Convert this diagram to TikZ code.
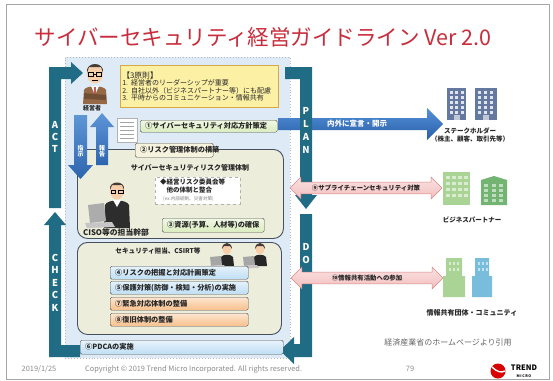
\documentclass[tikz,border=0pt]{standalone}
\usepackage{fontspec}
\setmainfont{Noto Sans CJK JP}
\usetikzlibrary{shapes.arrows}

\definecolor{titlered}{RGB}{200,45,60}
\definecolor{pdcateal}{RGB}{32,108,132}
\definecolor{zoneblue}{RGB}{222,235,247}
\definecolor{boxbeige}{RGB}{237,237,220}
\definecolor{boxedge}{RGB}{70,80,95}
\definecolor{ruleyellow}{RGB}{252,240,165}
\definecolor{ruleedge}{RGB}{215,170,70}
\definecolor{stepgreen}{RGB}{218,236,190}
\definecolor{stepblue}{RGB}{190,222,245}
\definecolor{steporange}{RGB}{247,192,140}
\definecolor{linkpink}{RGB}{244,190,190}
\definecolor{linkedge}{RGB}{215,135,135}
\definecolor{footgray}{RGB}{140,140,140}
\definecolor{skin}{RGB}{246,206,170}
\definecolor{suitbrown}{RGB}{150,105,70}
\definecolor{hair}{RGB}{70,60,55}
\definecolor{bldgblue}{RGB}{100,120,160}
\definecolor{bldggreen}{RGB}{170,212,150}
\definecolor{bldgdkgreen}{RGB}{115,180,115}
\definecolor{bldgsky}{RGB}{120,190,220}

\begin{document}
\begin{tikzpicture}[x=1pt,y=-1pt,
  zone/.style={draw=gray!55,dotted,line width=0.9pt,fill=zoneblue,anchor=north west,inner sep=0pt},
  panel/.style={draw=boxedge,line width=0.9pt,fill=boxbeige,rounded corners=10pt,anchor=north west,inner sep=0pt},
  task/.style={draw=gray!60!black,line width=0.4pt,rounded corners=1.5pt,anchor=north west,inner sep=0pt,inner xsep=5pt,
    minimum height=13pt,align=left,text=black!85,font=\fontsize{7.2}{8}\selectfont\bfseries},
  band/.style={fill=pdcateal},
  bandtext/.style={text=white,font=\fontsize{9.5}{10}\selectfont\bfseries,inner sep=0pt},
  link/.style={double arrow,double arrow head extend=5pt,double arrow tip angle=90,draw=linkedge,line width=0.5pt,
    top color=linkpink!45!white,bottom color=linkpink,inner ysep=2.5pt,minimum height=152pt,
    font=\fontsize{6.4}{7}\selectfont\bfseries,text=black!85},
  caption/.style={font=\fontsize{6.5}{7.5}\selectfont\bfseries,text=black!85,align=center,inner sep=0pt},
  foot/.style={font=\fontsize{7.4}{8}\selectfont,text=footgray,inner sep=0pt}]

\useasboundingbox (0,0) rectangle (553,380);
\fill[white] (0,0) rectangle (553,380);
\draw[gray!70,line width=0.8pt] (6,4) rectangle (549,379);

\node[anchor=west,text=titlered,font=\fontsize{21.5}{23}\selectfont] (title) at (31,37) {サイバーセキュリティ経営ガイドライン Ver 2.0};

% organisation area
\node[zone,minimum width=225pt,minimum height=301pt] (zone) at (65,57) {};

% declaration towards stakeholders (runs under the PLAN band)
\shade[top color={rgb,255:red,85;green,145;blue,215},bottom color={rgb,255:red,40;green,95;blue,170}]
  (278,118) -- (427,118) -- (427,108) -- (443,124) -- (427,140) -- (427,130) -- (278,130) -- cycle;
\node[text=white,font=\fontsize{7.5}{8}\selectfont\bfseries] (declare) at (357,124) {内外に宣言・開示};

% PDCA loop
\fill[band] (285,67) -- (312,67) -- (312,195) -- (317,195) -- (306,209) -- (295,195) -- (300,195) -- (300,79) -- (285,79) -- cycle;
\fill[band] (300,214) -- (312,214) -- (312,357) -- (294,357) -- (294,364) -- (280,350.5) -- (294,337) -- (294,344) -- (300,344) -- cycle;
\fill[band] (49,208) -- (49,67) -- (71,67) -- (71,62) -- (83,73) -- (71,84) -- (71,79) -- (61,79) -- (61,208) -- cycle;
\fill[band] (55,212) -- (66,225) -- (61,225) -- (61,345) -- (80,345) -- (80,357) -- (49,357) -- (49,225) -- (44,225) -- cycle;
\foreach \ch [count=\i] in {P,L,A,N}
  \node[bandtext] at (306,98+13*\i) {\ch};
\foreach \ch [count=\i] in {D,O}
  \node[bandtext] at (306,234+13*\i) {\ch};
\foreach \ch [count=\i] in {A,C,T}
  \node[bandtext] at (55,113+12*\i) {\ch};
\foreach \ch [count=\i] in {C,H,E,C,K}
  \node[bandtext] at (55,245+12.5*\i) {\ch};

% links to outside parties
\node[link] (supply) at (366,188) {⑨サプライチェーンセキュリティ対策};
\node[link] (share) at (367,278) {⑩情報共有活動への参加};

% three principles
\node[draw=ruleedge,line width=0.6pt,fill=ruleyellow,anchor=north west,minimum width=158pt,minimum height=42pt,
  text width=154pt,inner xsep=2pt,align=left,font=\fontsize{7}{7.4}\selectfont,text=black!85] (rules) at (120,65)
  {{\fontsize{7.8}{9.5}\selectfont【3原則】}\\
   \mbox{1.\hspace{3pt}経営者のリーダーシップが重要}\\
   \mbox{2.\hspace{3pt}自社以外（ビジネスパートナー等）にも配慮}\\
   \mbox{3.\hspace{3pt}平時からのコミュニケーション・情報共有}};

% executive
\fill[suitbrown] (83,104) -- (84,90) .. controls (86,85) and (104,85) .. (106,90) -- (107,104) -- cycle;
\fill[white] (91,86) -- (95,95) -- (99,86) -- cycle;
\fill[red!65!black] (94.3,87) -- (95.7,87) -- (95.5,95) -- (94.5,95) -- cycle;
\fill[suitbrown!75!black] (84,93) -- (106,95) -- (106,100) -- (84,99) -- cycle;
\fill[skin] (95,74) ellipse[x radius=8,y radius=9.5];
\fill[hair] (87,73) .. controls (85,61) and (105,61) .. (103,73) -- (101,67) -- (89,67) -- cycle;
\draw[black,line width=0.6pt] (88.5,72) rectangle (93.5,76) (96.5,72) rectangle (101.5,76) (93.5,74) -- (96.5,74);
\draw[black,line width=0.5pt] (92,80) -- (98,80);
\node[font=\fontsize{6}{7}\selectfont\bfseries,text=black!85] (exec) at (92,108) {経営者};

% policy document
\fill[white,draw=gray!60] (117,118) rectangle (137,142);
\foreach \y in {122,126,130,134,138}
  \draw[gray!70,line width=0.6pt] (120,\y) -- (134,\y);
\node[task,top color=stepgreen!40!white,bottom color=stepgreen,text width=127pt,minimum height=12pt] (policy) at (140,120)
  {①サイバーセキュリティ対応方針策定};

% risk management system
\node[panel,minimum width=206pt,minimum height=89pt] (riskbox) at (77,149) {};
\node[task,fill={rgb,255:red,245;green,242;blue,222},text width=68pt,align=center,minimum height=14pt] (build) at (135,143)
  {②リスク管理体制の構築};
\node[font=\fontsize{7}{8}\selectfont\bfseries,text=black!85] (system) at (190,168) {サイバーセキュリティリスク管理体制};
\node[draw=gray!60,dashed,fill=white,anchor=north west,minimum width=85pt,minimum height=27pt,inner sep=0pt] (committee) at (155,177) {};
\node[anchor=north west,align=left,inner sep=0pt,font=\fontsize{6.5}{8}\selectfont\bfseries,text=black!85] (align) at (160,179)
  {◆経営リスク委員会等\\\hspace{6.5pt}他の体制と整合};
\node[anchor=north west,inner sep=0pt,font=\fontsize{4.6}{5}\selectfont,text=gray] (example) at (163,196) {(ex.内部統制、災害対策)};

% CISO at the laptop
\fill[gray!35!black] (104,228) -- (105,205) .. controls (107,199) and (127,199) .. (129,205) -- (130,228) -- cycle;
\fill[white] (113,200) -- (117,207) -- (121,200) -- cycle;
\fill[skin] (117,191) ellipse[x radius=7,y radius=8.5];
\fill[hair] (110,190) .. controls (108,180) and (126,180) .. (124,190) -- (122,185) -- (112,185) -- cycle;
\draw[black,line width=0.5pt] (111,190) rectangle (115.5,193.5) (118.5,190) rectangle (123,193.5);
\fill[gray!65] (88,205) -- (104,203) -- (106,221) -- (90,223) -- cycle;
\fill[gray!45] (85,223) -- (112,222) -- (115,227) -- (87,228) -- cycle;
\node[font=\fontsize{7.8}{9}\selectfont\bfseries,text=black!85] (ciso) at (116,232) {CISO等の担当幹部};
\node[task,top color=stepgreen!40!white,bottom color=stepgreen,text width=92pt,minimum height=14pt] (resource) at (162,218)
  {③資源(予算、人材等)の確保};

% instruction and report
\shade[top color={rgb,255:red,95;green,150;blue,215},bottom color={rgb,255:red,45;green,100;blue,175}]
  (74,115) -- (87,115) -- (87,165) -- (93,165) -- (80.5,179) -- (68,165) -- (74,165) -- cycle;
\shade[top color={rgb,255:red,95;green,150;blue,215},bottom color={rgb,255:red,45;green,100;blue,175}]
  (96,165) -- (108,165) -- (108,127) -- (114,127) -- (102,113) -- (90,127) -- (96,127) -- cycle;
\node[text=white,font=\fontsize{6}{6.5}\selectfont\bfseries,align=center,inner sep=0pt] (order) at (80.5,151) {指\\示};
\node[text=white,font=\fontsize{6}{6.5}\selectfont\bfseries,align=center,inner sep=0pt] (report) at (102,151) {報\\告};

% security staff / CSIRT
\node[panel,minimum width=204pt,minimum height=92pt] (csirtbox) at (77,242) {};
\node[font=\fontsize{6.6}{7.5}\selectfont\bfseries,text=black!85] (csirt) at (158,251) {セキュリティ担当、CSIRT等};
\foreach \x in {227,260} {
  \fill[gray!30!black] (\x-7,266) -- (\x-6,257) .. controls (\x-4,254) and (\x+4,254) .. (\x+6,257) -- (\x+7,266) -- cycle;
  \fill[skin] (\x,249) ellipse[x radius=4.5,y radius=5.5];
  \fill[hair] (\x-5,249) .. controls (\x-5,241) and (\x+5,241) .. (\x+5,249) -- (\x+3,246) -- (\x-3,246) -- cycle;
  \fill[gray!70] (\x-17,257) -- (\x-6,256) -- (\x-5,265) -- (\x-16,266) -- cycle;
  \fill[gray!45] (\x-19,266) -- (\x-3,265) -- (\x-1,268) -- (\x-18,268.5) -- cycle;
}
\node[task,top color=stepblue!40!white,bottom color=stepblue,text width=128pt] (plan) at (110,266) {④リスクの把握と対応計画策定};
\node[task,top color=stepblue!40!white,bottom color=stepblue,text width=128pt] (protect) at (110,281) {⑤保護対策(防御・検知・分析)の実施};
\node[task,top color=steporange!40!white,bottom color=steporange,text width=128pt] (incident) at (110,297) {⑦緊急対応体制の整備};
\node[task,top color=steporange!40!white,bottom color=steporange,text width=128pt] (recover) at (110,313) {⑧復旧体制の整備};
\node[task,top color=stepblue!35!white,bottom color=stepblue,text width=193pt,minimum height=14pt] (pdca) at (80,340) {⑥PDCAの実施};

% stakeholders
\foreach \x/\w in {447/19,475/22} {
  \fill[bldgblue] (\x,88) rectangle (\x+\w,120);
  \foreach \r in {0,...,4}
    \foreach \c in {0,1,2}
      \fill[white!80!bldgblue] (\x+2.5+\c*\w/3.4,91+\r*5) rectangle (\x+5.5+\c*\w/3.4,94+\r*5);
  \fill[white!60!bldgblue] (\x+\w/2-3,115) rectangle (\x+\w/2+3,120);
}
\node[caption] (stake) at (470,135) {ステークホルダー\\（株主、顧客、取引先等）};

% business partners
\fill[bldggreen] (443,172) rectangle (470,205);
\foreach \r in {0,...,3}
  \foreach \c in {0,...,3}
    \fill[white!55!bldggreen] (446+\c*6,176+\r*6) rectangle (450+\c*6,179+\r*6);
\fill[bldgdkgreen] (481,180) -- (494,176) -- (507,180) -- (507,205) -- (481,205) -- cycle;
\foreach \r in {0,...,3}
  \foreach \c in {0,...,2}
    \fill[white!55!bldgdkgreen] (484+\c*7.5,184+\r*5) rectangle (488+\c*7.5,186.5+\r*5);
\node[caption] (partner) at (472,220) {ビジネスパートナー};

% information sharing community
\fill[bldggreen] (446,258) rectangle (462,276) (443,276) rectangle (465,297);
\fill[bldgsky] (475,258) rectangle (489,276) (472,276) rectangle (492,297);
\foreach \r in {0,1}
  \foreach \c in {0,1,2} {
    \fill[white!55!bldggreen] (449+\c*4,262+\r*6) rectangle (451+\c*4,265+\r*6);
    \fill[white!55!bldgsky] (478+\c*4,262+\r*6) rectangle (480+\c*4,265+\r*6);
  }
\node[caption,font=\fontsize{7}{8}\selectfont\bfseries] (community) at (472,313) {情報共有団体・コミュニティ};

\node[font=\fontsize{8}{9}\selectfont,text=gray!80!black] (source) at (448,342) {経済産業省のホームページより引用};

% footer
\node[foot] (date) at (39,369) {2019/1/25};
\node[foot,anchor=west] (copyright) at (85,369) {Copyright © 2019 Trend Micro Incorporated. All rights reserved.};
\node[foot] (page) at (410,369) {79};
\fill[red!85!black] (498,371) circle[radius=7.5];
\draw[white,line width=1.4pt] (492,367) .. controls (497,372) and (501,373) .. (505,371);
\node[font=\fontsize{7.5}{8}\selectfont\bfseries,inner sep=0pt] (trend) at (524,368) {TREND};
\node[font=\fontsize{3.6}{4}\selectfont\bfseries,inner sep=0pt] (micro) at (524,376) {M\,I\,C\,R\,O};
\end{tikzpicture}
\end{document}
